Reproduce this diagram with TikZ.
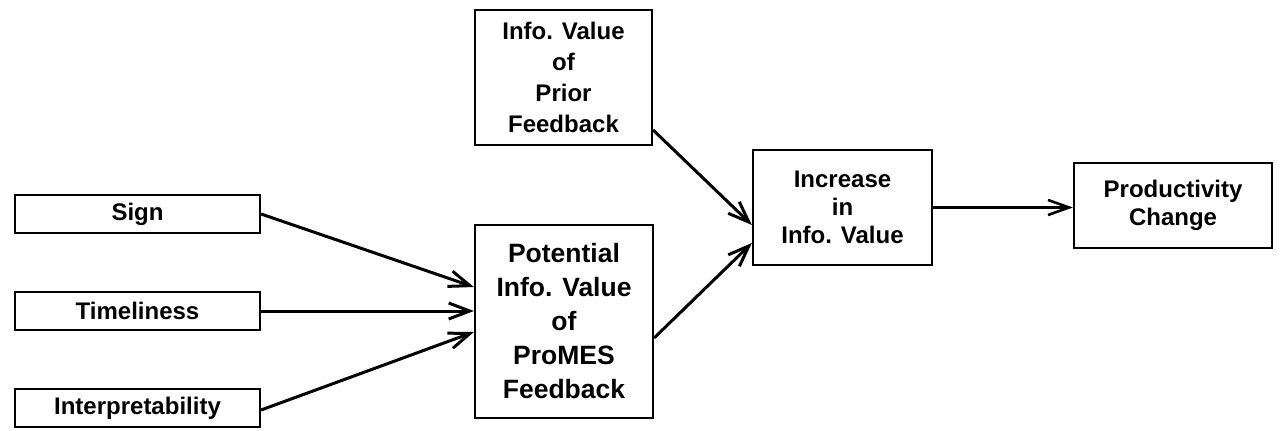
\documentclass[tikz,border=0pt]{standalone}
\usepackage{fontspec}
\setmainfont{Liberation Sans}
\usetikzlibrary{arrows.meta}
\begin{document}
\begin{tikzpicture}[x=1pt,y=-1pt,
  box/.style={draw=black,line width=2.2pt,inner sep=0pt,align=center,font=\fontsize{24}{31}\selectfont\bfseries},
  conn/.style={line width=3pt,-{Straight Barb[length=21pt,width=16pt,line width=3pt]}},
  thinconn/.style={line width=2.2pt,-{Straight Barb[length=21pt,width=15pt,line width=2.6pt]}}]
\useasboundingbox[fill=white] (0,0) rectangle (1280,431);
% left inputs
\node[box,minimum width=245pt,minimum height=38pt] (sign) at (137.5,214) {Sign};
\node[box,minimum width=245pt,minimum height=38pt] (time) at (137.5,311) {Timeliness};
\node[box,minimum width=245pt,minimum height=38pt] (interp) at (137.5,408) {Interpretability};
% middle boxes
\node[box,minimum width=177pt,minimum height=135pt] (prior) at (563.5,77.5) {Info. Value\\of\\Prior\\Feedback};
\node[box,minimum width=178pt,minimum height=193pt,font=\fontsize{26.5}{34}\selectfont\bfseries] (pot) at (564,321.5) {Potential\\Info. Value\\of\\ProMES\\Feedback};
\node[box,minimum width=179pt,minimum height=115pt,font=\fontsize{24}{28}\selectfont\bfseries] (inc) at (842.5,207.5) {Increase\\in\\Info. Value};
\node[box,minimum width=198pt,minimum height=85pt,font=\fontsize{24}{28}\selectfont\bfseries] (prod) at (1173,205.5) {Productivity\\Change};
% connectors
\draw[conn] (sign.east) -- ([yshift=34.5pt]pot.west);
\draw[conn] (time.east) -- (time.east -| pot.west);
\draw[conn] ([yshift=-2pt]interp.east) -- ([yshift=-10.5pt]pot.west);
\draw[conn] ([yshift=-52.5pt]prior.east) -- ([yshift=-17.5pt]inc.west);
\draw[conn] ([yshift=-16.5pt]pot.east) -- ([yshift=-35.5pt]inc.west);
\draw[thinconn] (inc.east) -- (inc.east -| prod.west);
\end{tikzpicture}
\end{document}
